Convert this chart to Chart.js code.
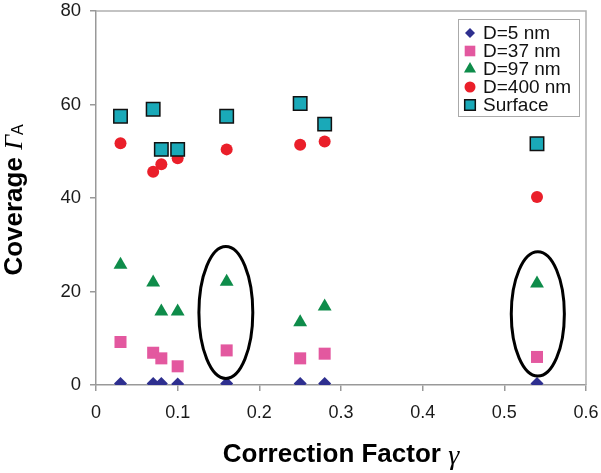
<!DOCTYPE html>
<html>
<head>
<meta charset="utf-8">
<script src="https://cdn.jsdelivr.net/npm/chart.js@4/dist/chart.umd.min.js"></script>
<style>
html,body{margin:0;padding:0;background:#fff;}
#wrap{width:601px;height:473px;}
</style>
</head>
<body>
<div id="wrap"><canvas id="c" width="601" height="473"></canvas></div>
<script>
// ---- data ----
const gammaValues = [0.03, 0.07, 0.08, 0.10, 0.16, 0.25, 0.28, 0.54];
const coverageD5 = [0.3, 0.3, 0.3, 0.2, 0.3, 0.3, 0.3, 0.3];
const coverageD37 = [9.2, 6.9, 5.7, 4.0, 7.4, 5.7, 6.7, 6.0];
const coverageD97 = [25.7, 21.9, 15.7, 15.7, 22.1, 13.4, 16.8, 21.7];
const coverageD400 = [51.7, 45.6, 47.2, 48.5, 50.4, 51.4, 52.1, 40.2];
const coverageSurface = [57.5, 59.0, 50.4, 50.4, 57.5, 60.2, 55.8, 51.6];
const seriesLabels = ['D=5 nm', 'D=37 nm', 'D=97 nm', 'D=400 nm', 'Surface'];
const xTickValues = [0, 0.1, 0.2, 0.3, 0.4, 0.5, 0.6];
const yTickValues = [0, 20, 40, 60, 80];
// highlighted groups (ellipse centre and half-axes, in data units)
const highlightGroups = [
  {gamma: 0.159, coverage: 15.5, halfGamma: 0.033, halfCoverage: 14.1},
  {gamma: 0.541, coverage: 15.2, halfGamma: 0.0325, halfCoverage: 13.3}
];

function pts(ys){ return gammaValues.map((g,i)=>({x:g, y:ys[i]})); }

const styles = [
  {style:'rectRot', color:'#2e2f8f', border:'#2e2f8f', bw:0, r:6.5, lr:5},
  {style:'rect', color:'#e3589f', border:'#e3589f', bw:0, r:8.5, lr:7.5},
  {style:'triangle', color:'#0e8c4a', border:'#0e8c4a', bw:0, r:8, lr:7},
  {style:'circle', color:'#ea1f2a', border:'#ea1f2a', bw:0, r:6, lr:5.5},
  {style:'rect', color:'#1aa9b8', border:'#111', bw:1.5, r:9.5, lr:7.5}
];
const seriesValues = [coverageD5, coverageD37, coverageD97, coverageD400, coverageSurface];

const datasets = seriesValues.map((vals, i) => ({
  label: seriesLabels[i],
  data: pts(vals),
  showLine: false,
  pointStyle: styles[i].style,
  pointRadius: styles[i].r,
  pointHoverRadius: styles[i].r,
  pointBackgroundColor: styles[i].color,
  pointBorderColor: styles[i].border,
  pointBorderWidth: styles[i].bw,
  backgroundColor: styles[i].color,
  borderColor: styles[i].border,
  order: 5 - i
}));

function drawMarker(ctx, st, x, y, r){
  ctx.save();
  ctx.fillStyle = st.color;
  ctx.strokeStyle = st.border;
  ctx.lineWidth = st.bw;
  ctx.beginPath();
  if (st.style === 'rectRot'){
    ctx.moveTo(x, y - r); ctx.lineTo(x + r, y); ctx.lineTo(x, y + r); ctx.lineTo(x - r, y);
  } else if (st.style === 'rect'){
    const s = Math.SQRT1_2 * r;
    ctx.rect(x - s, y - s, 2*s, 2*s);
  } else if (st.style === 'triangle'){
    for (let k=0;k<3;k++){
      const a = k * 2*Math.PI/3;
      const px = x + Math.sin(a)*r, py = y - Math.cos(a)*r;
      if (k===0) ctx.moveTo(px,py); else ctx.lineTo(px,py);
    }
  } else {
    ctx.arc(x, y, r, 0, Math.PI*2);
  }
  ctx.closePath();
  ctx.fill();
  if (st.bw > 0) ctx.stroke();
  ctx.restore();
}

const decorPlugin = {
  id: 'decor',
  beforeDatasetsDraw(chart){
    const {ctx, chartArea:a} = chart;
    ctx.save();
    ctx.strokeStyle = '#b0b0b0';
    ctx.lineWidth = 1.5;
    ctx.beginPath();
    ctx.moveTo(a.left, a.top); ctx.lineTo(a.right, a.top); ctx.lineTo(a.right, a.bottom);
    ctx.stroke();
    ctx.restore();
  },
  afterDatasetsDraw(chart){
    const {ctx, chartArea:a, scales} = chart;
    const xs = scales.x, ys = scales.y;
    // ellipses
    ctx.save();
    ctx.strokeStyle = '#000';
    ctx.lineWidth = 3;
    highlightGroups.forEach(g => {
      const cx = xs.getPixelForValue(g.gamma), cy = ys.getPixelForValue(g.coverage);
      const rx = Math.abs(xs.getPixelForValue(g.gamma + g.halfGamma) - cx);
      const ry = Math.abs(ys.getPixelForValue(g.coverage + g.halfCoverage) - cy);
      ctx.beginPath();
      ctx.ellipse(cx, cy, rx, ry, 0, 0, Math.PI*2);
      ctx.stroke();
    });
    ctx.restore();

    // legend
    const bw = 121, bh = 97;
    const bx = a.right - 7 - bw, by = a.top + 8;
    ctx.save();
    ctx.fillStyle = '#fff';
    ctx.fillRect(bx, by, bw, bh);
    ctx.strokeStyle = '#aaa';
    ctx.lineWidth = 1;
    ctx.strokeRect(Math.round(bx)+0.5, Math.round(by)+0.5, bw, bh);
    ctx.font = '19px "Liberation Sans", Arial, sans-serif';
    ctx.fillStyle = '#111';
    ctx.textBaseline = 'middle';
    chart.data.datasets.forEach((ds, i) => {
      const yy = by + 14 + i*18;
      drawMarker(ctx, styles[i], bx + 12, yy, styles[i].lr);
      ctx.fillStyle = '#111';
      ctx.fillText(ds.label, bx + 25, yy + 1);
    });
    ctx.restore();
  },
  afterDraw(chart){
    const {ctx, chartArea:a} = chart;
    ctx.save();
    ctx.fillStyle = '#000';
    ctx.textBaseline = 'middle';
    // x title
    const f1 = 'bold 26px "Liberation Sans", Arial, sans-serif';
    const f2 = 'italic 28px "Liberation Serif", "Times New Roman", serif';
    const t1 = 'Correction Factor ', t2 = 'γ';
    ctx.font = f1; const w1 = ctx.measureText(t1).width;
    ctx.font = f2; const w2 = ctx.measureText(t2).width;
    let sx = (a.left + a.right)/2 - (w1 + w2)/2;
    ctx.font = f1; ctx.fillText(t1, sx, 455);
    ctx.font = f2; ctx.fillText(t2, sx + w1, 457);
    // y title
    ctx.translate(15, 200);
    ctx.rotate(-Math.PI/2);
    const y1 = 'Coverage ', y2 = 'Γ', y3 = 'A';
    const g1 = 'bold 26px "Liberation Sans", Arial, sans-serif';
    const g2 = 'italic 26px "Liberation Serif", "Times New Roman", serif';
    const g3 = '16px "Liberation Sans", Arial, sans-serif';
    ctx.font = g1; const m1 = ctx.measureText(y1).width;
    ctx.font = g2; const m2 = ctx.measureText(y2).width;
    ctx.font = g3; const m3 = ctx.measureText(y3).width;
    let px = -(m1 + m2 + m3)/2;
    ctx.font = g1; ctx.fillText(y1, px, 0);
    ctx.font = g2; ctx.fillText(y2, px + m1, 0);
    ctx.font = g3; ctx.fillText(y3, px + m1 + m2, 4);
    ctx.restore();
  }
};

new Chart(document.getElementById('c'), {
  type: 'scatter',
  data: { datasets },
  options: {
    responsive: false,
    animation: false,
    events: [],
    layout: { padding: { top: 8, right: 15, left: 0, bottom: 0 } },
    plugins: { legend: { display: false }, tooltip: { enabled: false } },
    scales: {
      x: {
        type: 'linear', min: 0, max: 0.6,
        afterBuildTicks: s => { s.ticks = xTickValues.map(v => ({value: v})); },
        ticks: { font: { size: 18, family: '"Liberation Sans", Arial, sans-serif' }, color: '#1a1a1a', padding: 11,
                 maxRotation: 0, autoSkip: false, callback: v => String(Math.round(v*10)/10) },
        grid: { drawOnChartArea: false, drawTicks: true, tickLength: 6, color: '#999', lineWidth: 1.5 },
        border: { display: true, color: '#999', width: 1.5 },
        afterFit: s => { s.height = 88; s.paddingLeft = 0; s.paddingRight = 0; }
      },
      y: {
        type: 'linear', min: 0, max: 80,
        afterBuildTicks: s => { s.ticks = yTickValues.map(v => ({value: v})); },
        ticks: { font: { size: 18.5, family: '"Liberation Sans", Arial, sans-serif' }, color: '#1a1a1a', padding: 9 },
        grid: { drawOnChartArea: false, drawTicks: true, tickLength: 6, color: '#999', lineWidth: 1.5 },
        border: { display: true, color: '#999', width: 1.5 },
        afterFit: s => { s.width = 96; s.paddingTop = 0; s.paddingBottom = 0; }
      }
    }
  },
  plugins: [decorPlugin]
});
</script>
</body>
</html>
